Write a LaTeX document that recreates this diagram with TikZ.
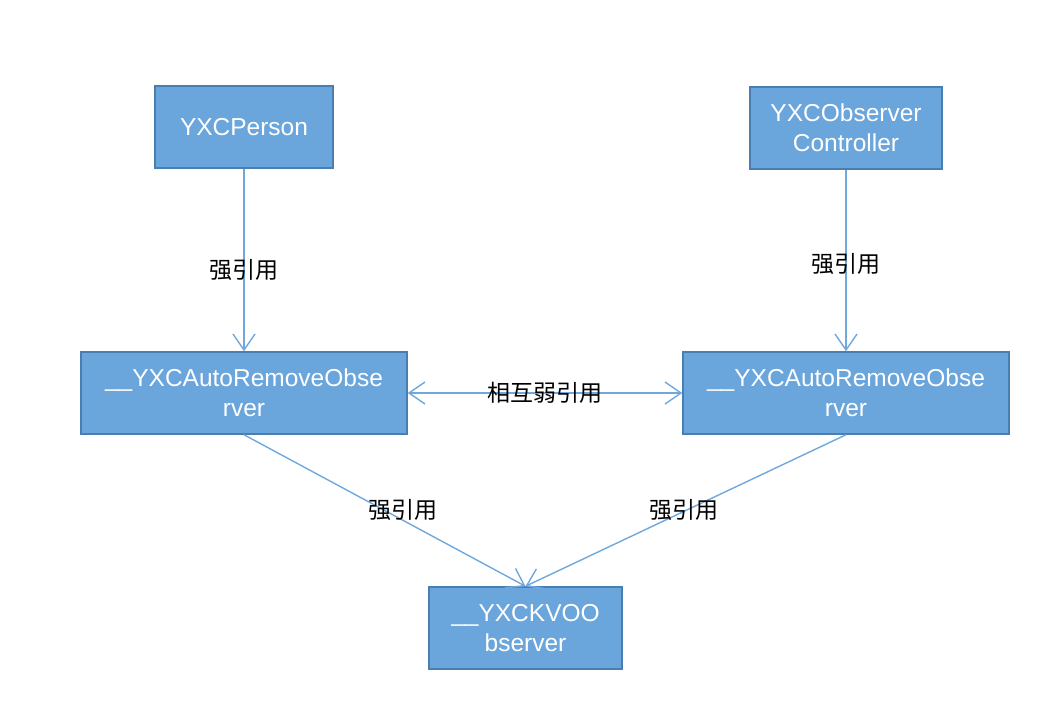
\documentclass[tikz,border=0pt]{standalone}
\usepackage{fontspec}
\setmainfont{Liberation Sans}
\newfontfamily\cjk{Noto Sans CJK SC}
\usetikzlibrary{arrows.meta}
\definecolor{boxfill}{HTML}{6AA5DC}
\definecolor{boxline}{HTML}{4A7EB0}
\definecolor{arrowcol}{HTML}{6FA8DC}
\begin{document}
\begin{tikzpicture}[x=1pt,y=-1pt,
  box/.style={draw=boxline,fill=boxfill,line width=1.5pt,text=white,
    font=\fontsize{24.5}{30}\selectfont,align=center,inner sep=0pt,anchor=center},
  tip/.style={},
  conn/.style={draw=arrowcol,line width=1.4pt,-{Straight Barb[length=16pt,width=22pt]}},
  lbl/.style={font=\cjk\fontsize{23}{26}\selectfont,text=black,inner sep=0pt}]
\useasboundingbox (0,0) rectangle (1062,726);
\node[box,minimum width=178pt,minimum height=82pt] (person) at (244,127) {YXCPerson};
\node[box,minimum width=192pt,minimum height=82pt] (ctrl) at (846,128) {YXCObserver\\Controller};
\node[box,minimum width=326pt,minimum height=82pt] (la) at (244,393) {\_\_YXCAutoRemoveObse\\rver};
\node[box,minimum width=326pt,minimum height=82pt] (ra) at (846,393) {\_\_YXCAutoRemoveObse\\rver};
\node[box,minimum width=193pt,minimum height=82pt] (kvo) at (525.5,628) {\_\_YXCKVOO\\bserver};
\draw[conn] (person.south) -- (la.north);
\draw[conn] (ctrl.south) -- (ra.north);
\draw[conn,{Straight Barb[length=16pt,width=22pt]}-{Straight Barb[length=16pt,width=22pt]}] (la.east) -- (ra.west);
\draw[conn] (la.south) -- (kvo.north);
\draw[conn] (ra.south) -- (kvo.north);
\node[lbl] (l1) at (244,270) {强引用};
\node[lbl] (l2) at (846,264) {强引用};
\node[lbl] (l3) at (403,510) {强引用};
\node[lbl] (l4) at (684,510) {强引用};
\node[lbl] (l5) at (545,393) {相互弱引用};
\end{tikzpicture}
\end{document}
